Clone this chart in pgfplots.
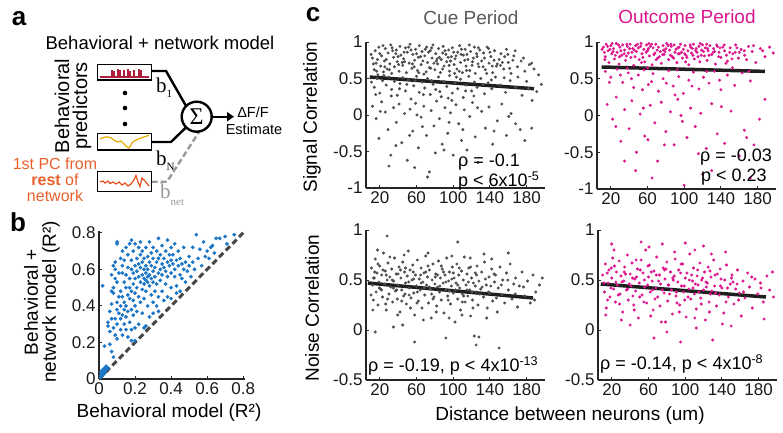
\documentclass[border=0pt]{standalone}
\usepackage{fontspec}
\setmainfont{Liberation Sans}
\newfontfamily\serif{Liberation Serif}
\usepackage{pgfplots}
\pgfplotsset{compat=1.18}
\usetikzlibrary{arrows.meta}
\definecolor{cuegray}{RGB}{78,78,78}
\definecolor{outmag}{RGB}{220,22,142}
\definecolor{bblue}{RGB}{28,118,198}
\definecolor{spikered}{RGB}{176,32,60}
\definecolor{trYellow}{RGB}{232,168,0}
\definecolor{trOrange}{RGB}{226,80,30}
\definecolor{pcorange}{RGB}{232,96,44}
\newcommand{\fs}[1]{\fontsize{#1}{#1}\selectfont}

\pgfplotsset{
  panel/.style={
    scale only axis, anchor=south west,
    axis lines*=left,
    axis line style={line width=1.5pt, draw=black!85},
    every tick/.style={black!85, line width=1pt},
    tick align=inside, major tick length=3pt,
    ticklabel style={font=\fs{17}, text=black!90},
    /pgf/number format/assume math mode=true,
    clip=false,
  },
  cpanel/.style={panel, width=179pt, xmin=5, xmax=200,
    xtick={20,60,100,140,180}, xticklabels={20,60,100,140,180}},
  sigpanel/.style={cpanel, ymin=-1, ymax=1,
    ytick={-1,-0.5,0,0.5,1}, yticklabels={-1,-0.5,0,0.5,1}},
  noisepanel/.style={cpanel, height=150pt, ymin=-0.5, ymax=1,
    ytick={-0.5,0,0.5,1}, yticklabels={-0.5,0,0.5,1}},
  dots/.style={only marks, mark=*, mark size=1.3pt},
  fit/.style={line width=3.5pt, black!88},
}

\begin{document}
\begin{tikzpicture}
\path[use as bounding box] (0,0) rectangle (783pt,432pt);

% ---- b: model comparison ----
\begin{axis}[panel, at={(99pt,53pt)}, width=146pt, height=148pt,
  xmin=0, xmax=0.81, ymin=0, ymax=0.81,
  xtick={0,0.2,0.4,0.6,0.8}, xticklabels={0,0.2,0.4,0.6,0.8},
  ytick={0,0.2,0.4,0.6,0.8}, yticklabels={0,0.2,0.4,0.6,0.8}]
\addplot[dots, mark size=1.7pt, bblue] coordinates {
(0.01,0.02)(0.02,0.03)(0.02,0.05)(0.03,0.04)(0.01,0.01)(0.03,0.06)(0.04,0.05)(0.02,0.02)(0.04,0.07)(0.03,0.03)(0.05,0.06)(0.01,0.04)
(0.02,0.51)(0.03,0.18)
(0.05,0.29)(0.05,0.31)(0.06,0.26)(0.06,0.19)(0.07,0.33)(0.06,0.37)(0.07,0.41)(0.08,0.47)(0.07,0.48)(0.08,0.50)(0.07,0.57)(0.09,0.60)(0.08,0.62)(0.09,0.64)(0.08,0.28)(0.09,0.24)(0.09,0.33)(0.1,0.38)(0.1,0.42)(0.1,0.30)(0.1,0.22)(0.1,0.75)(0.1,0.74)(0.09,0.55)(0.1,0.53)(0.07,0.15)(0.08,0.12)
(0.11,0.36)(0.11,0.45)(0.11,0.58)(0.12,0.66)(0.12,0.27)(0.12,0.33)(0.12,0.48)(0.12,0.40)(0.13,0.58)(0.13,0.62)(0.13,0.70)(0.13,0.45)(0.13,0.35)(0.13,0.24)(0.14,0.53)(0.14,0.38)(0.14,0.42)(0.14,0.65)(0.14,0.30)(0.15,0.72)(0.15,0.50)(0.15,0.57)(0.15,0.40)(0.15,0.27)(0.15,0.34)(0.16,0.61)(0.16,0.46)(0.16,0.68)(0.16,0.37)(0.16,0.23)(0.17,0.55)(0.17,0.74)(0.17,0.44)(0.17,0.50)(0.17,0.31)(0.18,0.76)(0.18,0.60)(0.18,0.65)(0.18,0.38)(0.18,0.48)(0.18,0.27)(0.19,0.58)(0.19,0.70)(0.19,0.43)(0.19,0.52)(0.19,0.35)(0.2,0.62)(0.2,0.47)(0.2,0.74)(0.2,0.40)(0.2,0.28)(0.2,0.55)(0.2,0.21)
(0.21,0.59)(0.21,0.66)(0.21,0.50)(0.21,0.37)(0.22,0.72)(0.22,0.56)(0.22,0.45)(0.22,0.63)(0.22,0.30)(0.23,0.61)(0.23,0.53)(0.23,0.68)(0.23,0.42)(0.23,0.75)(0.24,0.57)(0.24,0.49)(0.24,0.64)(0.24,0.36)(0.24,0.70)(0.25,0.55)(0.25,0.60)(0.25,0.52)(0.25,0.66)(0.25,0.44)(0.25,0.28)(0.26,0.58)(0.26,0.54)(0.26,0.62)(0.26,0.72)(0.26,0.48)(0.27,0.56)(0.27,0.53)(0.27,0.60)(0.27,0.40)(0.27,0.67)(0.28,0.57)(0.28,0.51)(0.28,0.64)(0.28,0.75)(0.28,0.34)(0.29,0.55)(0.29,0.62)(0.29,0.46)(0.29,0.69)(0.3,0.59)(0.3,0.53)(0.3,0.66)(0.3,0.42)(0.3,0.72)(0.3,0.36)
(0.31,0.61)(0.31,0.56)(0.31,0.48)(0.32,0.64)(0.32,0.70)(0.32,0.52)(0.32,0.40)(0.33,0.58)(0.33,0.66)(0.33,0.77)(0.33,0.45)(0.34,0.60)(0.34,0.54)(0.34,0.68)(0.35,0.63)(0.35,0.57)(0.35,0.73)(0.35,0.48)(0.36,0.61)(0.36,0.66)(0.36,0.43)(0.37,0.59)(0.37,0.70)(0.37,0.52)(0.38,0.64)(0.38,0.76)(0.38,0.56)(0.38,0.45)(0.39,0.62)(0.39,0.68)(0.4,0.58)(0.4,0.65)(0.4,0.50)(0.4,0.72)(0.4,0.44)
(0.41,0.63)(0.41,0.68)(0.42,0.56)(0.42,0.60)(0.42,0.74)(0.43,0.65)(0.43,0.51)(0.44,0.62)(0.44,0.70)(0.45,0.57)(0.45,0.66)(0.45,0.48)(0.46,0.63)(0.46,0.55)(0.47,0.60)(0.47,0.72)(0.48,0.64)(0.48,0.53)(0.49,0.59)(0.5,0.67)(0.5,0.62)(0.51,0.56)(0.52,0.72)(0.52,0.64)(0.53,0.60)(0.54,0.79)(0.55,0.66)
(0.56,0.71)(0.57,0.62)(0.58,0.75)(0.6,0.70)(0.61,0.66)(0.62,0.72)(0.64,0.69)(0.65,0.77)(0.67,0.77)(0.7,0.78)(0.71,0.74)(0.75,0.79)(0.63,0.73)(0.59,0.67)
(0.18,0.21)(0.26,0.29)(0.33,0.37)(0.43,0.47)
};
\addplot[line width=3pt, black!72, dash pattern=on 6pt off 3.5pt] coordinates {(0,0) (0.8,0.8)};
\end{axis}

% ---- c: cue signal ----
\begin{axis}[sigpanel, at={(366pt,244pt)}, height=146pt]
\addplot[dots, cuegray] coordinates {
(12,0.78)(14,0.62)(15,0.88)(16,0.71)(18,0.55)(19,0.93)(21,0.67)(22,0.81)(24,0.59)(25,0.74)(26,0.91)(28,0.63)(29,0.85)(31,0.70)(32,0.96)(33,0.57)(35,0.79)(36,0.66)(38,0.89)(39,0.73)(41,0.60)(42,0.94)(43,0.82)(45,0.68)(46,0.77)(48,0.92)(49,0.58)(50,0.86)(52,0.71)(53,0.97)(55,0.64)(56,0.83)(58,0.75)(59,0.90)(61,0.61)(62,0.79)(63,0.95)(65,0.69)(66,0.87)(68,0.56)(69,0.81)(71,0.93)(72,0.72)(74,0.65)(75,0.88)(77,0.78)(78,0.96)(80,0.62)(81,0.84)(83,0.70)(84,0.91)(86,0.58)(87,0.76)(89,0.94)(90,0.67)(92,0.83)(93,0.73)(95,0.89)(96,0.60)(98,0.80)(99,0.92)(101,0.69)(102,0.77)(104,0.63)(105,0.86)(107,0.95)(108,0.72)(110,0.58)(111,0.82)(113,0.90)(114,0.67)(116,0.76)(118,0.61)(119,0.87)(121,0.73)(123,0.93)(124,0.57)(126,0.80)(128,0.66)(129,0.89)
(131,0.74)(133,0.85)(135,0.62)(137,0.93)(139,0.71)(141,0.80)(143,0.58)(145,0.88)(147,0.67)(150,0.76)(152,0.84)(155,0.63)(158,0.90)(160,0.72)(163,0.57)(166,0.81)(170,0.66)(174,0.74)(178,0.60)(183,0.69)(188,0.63)(193,0.55)(196,0.42)(191,0.32)(186,0.20)(180,0.46)
(13,0.70)(20,0.84)(27,0.76)(34,0.88)(40,0.80)(47,0.73)(54,0.89)(60,0.84)(67,0.74)(73,0.86)(79,0.71)(85,0.79)(91,0.88)(97,0.74)(103,0.81)(109,0.90)(115,0.83)(122,0.78)(127,0.70)(134,0.78)(140,0.86)(148,0.70)(156,0.80)(165,0.75)
(10.5,0.83)(16.5,0.60)(23.5,0.95)(30.5,0.62)(37.5,0.84)(44.5,0.72)(51.5,0.93)(57.5,0.66)(64.5,0.80)(70.5,0.59)(76.5,0.92)(82.5,0.77)(88.5,0.63)(94.5,0.79)(100.5,0.86)(106.5,0.60)(112.5,0.75)(117.5,0.96)(125.5,0.84)(132.5,0.66)(138.5,0.91)(144.5,0.75)(151.5,0.68)(159.5,0.83)(167.5,0.88)(176.5,0.78)(185.5,0.71)
(17.5,0.76)(25.5,0.66)(33.5,0.92)(40.5,0.69)(46.5,0.86)(55.5,0.70)(62.5,0.58)(69.5,0.90)(75.5,0.64)(81.5,0.74)(88.5,0.85)(95.5,0.68)(101.5,0.57)(108.5,0.83)(114.5,0.61)(120.5,0.68)(127.5,0.92)(136.5,0.57)(142.5,0.67)(153.5,0.72)(161.5,0.64)
(11,0.45)(14,0.38)(17,0.50)(20,0.30)(23,0.47)(27,0.41)(30,0.52)(33,0.35)(36,0.46)(39,0.27)(42,0.43)(45,0.51)(48,0.33)(51,0.48)(54,0.22)(57,0.40)(60,0.53)(63,0.31)(66,0.45)(69,0.37)(72,0.50)(75,0.28)(78,0.42)(81,0.35)(84,0.52)(87,0.25)(90,0.46)(93,0.39)(96,0.54)(99,0.30)(102,0.44)(105,0.36)(108,0.49)(111,0.24)(114,0.41)(117,0.53)(120,0.33)(123,0.45)(126,0.38)(130,0.50)(134,0.29)(138,0.44)(142,0.36)(146,0.52)(151,0.41)(157,0.31)(162,0.47)(168,0.38)(175,0.27)(182,0.36)
(15.5,0.28)(24.5,0.54)(32.5,0.26)(41.5,0.36)(49.5,0.42)(58.5,0.47)(67.5,0.28)(76.5,0.47)(85.5,0.32)(94.5,0.23)(103.5,0.52)(113.5,0.33)(122.5,0.26)(132.5,0.42)(141.5,0.48)(155.5,0.51)(170.5,0.52)
(12,0.12)(16,-0.05)(19,-0.32)(22,0.18)(26,0.04)(29,-0.20)(32,-0.55)(35,0.10)(38,-0.10)(41,0.15)(44,-0.38)(47,0.02)(50,-0.62)(53,0.08)(56,-0.22)(59,0.16)(62,-0.45)(65,-0.03)(68,0.12)(71,-0.28)(74,-0.78)(76,0.06)(79,-0.15)(82,0.19)(85,-0.05)(88,-0.40)(91,0.10)(94,-0.25)(97,0.03)(100,-0.55)(103,0.14)(106,-0.12)(109,-0.35)(112,0.07)(115,-0.48)(118,-0.02)(121,0.17)(124,-0.30)(127,-0.65)(131,0.05)(135,-0.18)(139,0.11)(143,-0.40)(148,-0.08)(153,0.15)(158,-0.28)(163,0.02)(168,-0.12)(173,-0.20)(178,-0.35)(72,-0.85)(58,-0.72)(30,-0.70)(90,-0.48)
(20.5,0.05)(37.5,-0.42)(52.5,-0.28)(66.5,-0.16)(80.5,-0.52)(95.5,-0.10)(110.5,-0.20)(126.5,0.10)(144.5,-0.22)(160.5,-0.02)(185.5,-0.18)(98.5,0.20)(60.5,0.00)
};
\addplot[fit] coordinates {(9,0.52) (188,0.36)};
\end{axis}

% ---- c: outcome signal ----
\begin{axis}[sigpanel, at={(597pt,243pt)}, height=147pt]
\addplot[dots, outmag] coordinates {
(12,0.93)(14,0.80)(15,0.97)(17,0.88)(18,0.72)(20,0.95)(21,0.84)(23,0.91)(24,0.77)(26,0.98)(27,0.86)(29,0.70)(30,0.93)(32,0.82)(33,0.96)(35,0.89)(36,0.75)(38,0.94)(39,0.85)(41,0.97)(42,0.79)(44,0.91)(45,0.68)(47,0.95)(48,0.87)(50,0.92)(51,0.76)(53,0.98)(54,0.84)(56,0.90)(57,0.73)(59,0.96)(60,0.88)(62,0.81)(63,0.94)(65,0.69)(66,0.92)(68,0.85)(69,0.97)(71,0.78)(72,0.93)(74,0.87)(75,0.71)(77,0.95)(78,0.83)(80,0.91)(81,0.98)(83,0.76)(84,0.89)(86,0.94)(87,0.80)(89,0.96)(90,0.86)(92,0.72)(93,0.92)(95,0.84)(96,0.97)(98,0.78)(99,0.90)(101,0.95)(102,0.82)(104,0.88)(105,0.69)(107,0.93)(108,0.85)(110,0.97)(111,0.77)(113,0.91)(114,0.86)(116,0.94)(117,0.73)(119,0.89)(120,0.96)(122,0.81)(123,0.92)(125,0.75)(126,0.88)(128,0.95)(130,0.83)(132,0.91)(134,0.70)(136,0.94)(138,0.86)(140,0.79)(142,0.93)(144,0.88)(147,0.74)(150,0.92)(153,0.84)(156,0.96)(159,0.78)(162,0.90)(166,0.82)(170,0.94)(174,0.87)(178,0.72)(183,0.91)(188,0.80)(193,0.93)(197,0.85)
(13,0.86)(19,0.90)(25,0.82)(31,0.88)(37,0.81)(43,0.86)(49,0.97)(55,0.79)(61,0.91)(67,0.83)(73,0.80)(79,0.87)(85,0.82)(91,0.90)(97,0.86)(103,0.79)(109,0.91)(115,0.80)(121,0.87)(127,0.82)(133,0.87)(139,0.92)(146,0.82)(152,0.77)(160,0.86)(168,0.76)
(10.5,0.90)(16.5,0.94)(22.5,0.87)(28.5,0.96)(34.5,0.84)(40.5,0.91)(46.5,0.80)(52.5,0.94)(58.5,0.86)(64.5,0.97)(70.5,0.89)(76.5,0.83)(82.5,0.95)(88.5,0.78)(94.5,0.93)(100.5,0.84)(106.5,0.96)(112.5,0.88)(118.5,0.82)(124.5,0.97)(131.5,0.86)(137.5,0.80)(143.5,0.96)(149.5,0.86)(157.5,0.92)(165.5,0.88)(175.5,0.95)(185.5,0.88)
(13.5,0.76)(21.5,0.98)(29.5,0.80)(37.5,0.97)(45.5,0.89)(53.5,0.72)(61.5,0.98)(69.5,0.76)(77.5,0.89)(85.5,0.97)(93.5,0.84)(101.5,0.73)(109.5,0.82)(117.5,0.98)(125.5,0.91)(135.5,0.96)(145.5,0.71)(155.5,0.86)
(14,0.60)(20,0.52)(27,0.63)(33,0.45)(39,0.58)(45,0.38)(50,0.55)(56,0.62)(61,0.42)(66,0.57)(72,0.33)(77,0.50)(83,0.61)(88,0.40)(94,0.53)(99,0.30)(105,0.48)(110,0.59)(116,0.36)(121,0.52)(127,0.44)(133,0.60)(140,0.35)(147,0.55)(155,0.41)(163,0.58)(172,0.47)(188,0.22)(60,0.65)(38,0.64)
(18.5,0.45)(30.5,0.55)(42.5,0.50)(54.5,0.35)(64.5,0.46)(80.5,0.44)(92.5,0.62)(108.5,0.40)(124.5,0.60)(138.5,0.48)(152.5,0.65)(170.5,0.60)
(16,0.15)(22,-0.05)(26,0.25)(31,-0.35)(35,0.08)(40,-0.18)(43,0.20)(48,-0.50)(52,0.02)(57,-0.28)(63,0.14)(68,-0.10)(71,-0.62)(75,0.18)(80,-0.22)(85,0.05)(89,-0.40)(93,0.22)(98,-0.08)(103,-0.30)(107,0.10)(112,-0.15)(118,0.03)(124,-0.45)(130,0.16)(136,-0.25)(144,-0.38)(151,0.06)(160,-0.55)(168,-0.30)(176,-0.40)(182,-0.05)(47,-0.75)(100,-0.95)(120,-0.80)(65,-0.85)(172,-0.85)(130,-0.75)(35,-0.62)(90,0.28)
(25.5,-0.15)(55.5,0.10)(78.5,-0.40)(96.5,0.00)(115.5,-0.52)(140.5,0.12)(165.5,-0.20)(60.5,-0.33)
};
\addplot[fit] coordinates {(10,0.66) (188,0.60)};
\end{axis}

% ---- c: cue noise ----
\begin{axis}[noisepanel, at={(366pt,52pt)}]
\addplot[dots, cuegray] coordinates {
(11,0.62)(12,0.45)(13,0.30)(14,0.52)(15,0.71)(16,0.38)(17,0.57)(18,0.25)(19,0.48)(20,0.64)(21,0.41)(22,0.55)(23,0.33)(24,0.77)(25,0.46)(26,0.59)(27,0.20)(28,0.50)(29,0.67)(30,0.36)(31,0.53)(32,0.43)(33,0.61)(34,0.28)(35,0.49)(36,0.72)(37,0.39)(38,0.56)(39,0.31)(40,0.45)(41,0.63)(42,0.18)(43,0.52)(44,0.40)(45,0.68)(46,0.34)(47,0.58)(48,0.47)(49,0.26)(50,0.54)(51,0.79)(52,0.42)(53,0.60)(54,0.32)(55,0.50)(56,0.65)(57,0.37)(58,0.15)(59,0.55)(60,0.44)(61,0.70)(62,0.29)(63,0.51)(64,0.40)(65,0.62)(66,0.22)(67,0.48)(68,0.57)(69,0.35)(70,0.74)(71,0.45)(72,0.53)(73,0.27)(74,0.60)(75,0.41)(76,0.12)(77,0.50)(78,0.66)(79,0.33)(80,0.46)(81,0.56)(82,0.24)(83,0.43)(84,0.69)(85,0.38)(86,0.52)(87,0.30)(88,0.61)(89,0.47)(90,0.17)(91,0.55)(92,0.40)(93,0.72)(94,0.34)(95,0.49)(96,0.58)(97,0.26)(98,0.44)(99,0.63)(100,0.37)(101,0.52)(102,0.08)(103,0.47)(104,0.66)(105,0.31)(106,0.55)(107,0.42)(108,0.20)(109,0.59)(110,0.36)(111,0.50)(112,0.73)(113,0.28)(114,0.45)(115,0.56)(116,0.34)(117,0.62)(118,0.40)(119,0.14)(120,0.52)(121,0.30)(122,0.47)(123,-0.06)(124,0.57)(125,0.38)(126,0.64)(127,0.25)(128,0.49)(130,0.41)(131,0.58)(133,0.33)(134,0.68)(136,0.45)(137,0.22)(139,0.53)(140,0.37)(142,0.61)(143,0.29)(145,0.48)(146,0.55)(148,0.18)(149,0.42)(151,0.63)(153,0.35)(154,0.50)(156,0.27)(158,0.57)(160,0.40)(162,0.66)(164,0.31)(166,0.46)(168,0.52)(170,0.23)(172,0.44)(175,0.58)(178,0.34)(181,0.49)(184,0.27)(187,0.55)(190,0.38)(194,0.45)(197,0.52)
(13,0.52)(18,0.66)(22,0.40)(27,0.55)(31,0.73)(35,0.42)(40,0.56)(44,0.29)(48,0.62)(52,0.35)(57,0.51)(61,0.38)(65,0.47)(70,0.58)(74,0.43)(78,0.31)(83,0.55)(87,0.64)(92,0.48)(96,0.39)(100,0.57)(105,0.45)(110,0.28)(115,0.40)(119,0.63)(124,0.44)(129,0.36)(135,0.51)(141,0.44)(147,0.32)(28,0.94)(105,0.88)(58,-0.12)(125,-0.15)(35,0.03)(150,-0.18)(128,-0.07)(92,-0.08)(15,-0.02)(45,0.05)(142,0.71)(160,0.77)
(10.5,0.35)(14.5,0.58)(19.5,0.42)(23.5,0.60)(28.5,0.31)(33.5,0.50)(38.5,0.40)(42.5,0.60)(47.5,0.36)(51.5,0.48)(56.5,0.58)(60.5,0.27)(64.5,0.55)(68.5,0.42)(72.5,0.64)(76.5,0.36)(80.5,0.53)(85.5,0.44)(89.5,0.58)(94.5,0.30)(98.5,0.51)(102.5,0.40)(106.5,0.62)(111.5,0.34)(116.5,0.48)(120.5,0.38)(125.5,0.55)(131.5,0.43)(138.5,0.38)(144.5,0.56)(152.5,0.45)(159.5,0.50)(167.5,0.36)(176.5,0.43)(188.5,0.30)
(12.5,0.20)(26.5,0.26)(39.5,0.15)(53.5,0.22)(67.5,0.10)(81.5,0.18)(95.5,0.12)(109.5,0.15)(121.5,0.22)(136.5,0.12)(17.5,0.80)(46.5,0.75)(72.5,0.77)(98.5,0.74)(118.5,0.72)(133.5,0.76)
};
\addplot[fit] coordinates {(7,0.47) (187,0.32)};
\end{axis}

% ---- c: outcome noise ----
\begin{axis}[noisepanel, at={(598pt,52pt)}]
\addplot[dots, outmag] coordinates {
(10,0.55)(12,0.38)(13,0.66)(14,0.22)(16,0.47)(17,0.60)(18,0.33)(20,0.52)(21,0.72)(22,0.41)(24,0.28)(25,0.58)(26,0.45)(28,0.69)(29,0.36)(30,0.54)(32,0.18)(33,0.49)(34,0.63)(36,0.40)(37,0.75)(38,0.30)(40,0.56)(41,0.44)(42,0.67)(44,0.25)(45,0.51)(46,0.39)(48,0.61)(49,0.12)(50,0.47)(52,0.70)(53,0.35)(54,0.57)(56,0.43)(57,0.80)(58,0.27)(60,0.53)(61,0.65)(62,0.38)(64,0.49)(65,0.20)(66,0.59)(68,0.42)(69,0.73)(70,0.33)(72,0.55)(73,0.46)(74,0.08)(76,0.62)(77,0.37)(78,0.51)(80,0.68)(81,0.29)(82,0.45)(84,0.58)(85,0.40)(86,0.16)(88,0.54)(89,0.71)(90,0.34)(92,0.48)(93,0.60)(94,0.25)(96,0.44)(97,0.66)(98,0.38)(100,0.52)(101,0.13)(102,0.57)(104,0.41)(105,0.76)(106,0.31)(108,0.49)(109,0.62)(110,0.36)(112,0.21)(113,0.54)(114,0.45)(116,0.67)(117,0.32)(118,0.50)(120,0.40)(121,0.58)(122,0.10)(124,0.47)(125,0.63)(126,0.28)(128,0.53)(129,0.39)(131,0.70)(132,0.44)(134,0.24)(135,0.56)(137,0.35)(138,0.61)(140,0.42)(142,0.17)(143,0.50)(145,0.65)(147,0.33)(149,0.46)(151,0.55)(153,0.26)(155,0.41)(157,0.60)(159,0.37)(161,0.14)(163,0.49)(165,0.32)(168,0.57)(170,0.43)(173,0.22)(176,0.51)(179,0.36)(182,0.47)(185,0.28)(189,0.54)(192,0.40)(196,0.33)(186,0.11)(195,0.58)
(15,0.57)(19,0.42)(23,0.64)(27,0.35)(31,0.48)(35,0.56)(39,0.46)(43,0.34)(47,0.53)(51,0.60)(55,0.28)(59,0.45)(63,0.58)(67,0.31)(71,0.49)(75,0.40)(79,0.61)(83,0.36)(87,0.50)(91,0.27)(95,0.57)(99,0.44)(103,0.33)(107,0.55)(111,0.46)(115,0.38)(119,0.52)(123,0.43)(127,0.59)(133,0.37)(139,0.51)(146,0.42)(152,0.48)(158,0.30)(66,-0.08)(95,-0.12)(130,-0.10)(112,0.02)(40,0.05)(52,0.88)(75,0.86)(100,0.87)(120,0.84)(144,0.78)(20,0.86)(150,0.04)(80,-0.02)
(11.5,0.47)(15.5,0.30)(19.5,0.62)(24.5,0.48)(28.5,0.26)(33.5,0.58)(37.5,0.41)(42.5,0.52)(46.5,0.70)(50.5,0.33)(55.5,0.50)(59.5,0.64)(64.5,0.40)(68.5,0.55)(72.5,0.24)(77.5,0.60)(81.5,0.45)(86.5,0.52)(90.5,0.38)(95.5,0.66)(99.5,0.30)(104.5,0.50)(108.5,0.42)(113.5,0.60)(117.5,0.26)(122.5,0.48)(127.5,0.36)(132.5,0.55)(138.5,0.44)(144.5,0.28)(150.5,0.52)(156.5,0.46)(163.5,0.38)(172.5,0.53)(182.5,0.42)
(13.5,0.15)(30.5,0.10)(44.5,0.20)(62.5,0.14)(78.5,0.08)(93.5,0.18)(110.5,0.12)(126.5,0.18)(140.5,0.06)(22.5,0.80)(60.5,0.83)(88.5,0.78)(110.5,0.80)(128.5,0.76)
};
\addplot[fit] coordinates {(8,0.46) (188,0.33)};
\end{axis}

% ---- annotations and panel a (pixel coordinates from the top) ----
\begin{scope}[x=1pt, y=-1pt, yshift=432pt]
  \node[font=\bfseries\fs{26}] at (19,19) {a};
  \node[font=\bfseries\fs{26}] at (18,222) {b};
  \node[font=\bfseries\fs{26}] at (313,15) {c};

  \node[font=\fs{19}, text=black!65] at (471,18) {Cue Period};
  \node[font=\fs{19}, text=outmag] at (687,17) {Outcome Period};
  \node[font=\fs{19}, rotate=90] at (312,117) {Signal Correlation};
  \node[font=\fs{19}, rotate=90] at (312,308) {Noise Correlation};
  \node[font=\fs{19}] at (570,416) {Distance between neurons (um)};

  \node[font=\fs{18}, anchor=west, inner sep=0pt] at (458,162) {ρ = -0.1};
  \node[font=\fs{18}, anchor=west, inner sep=0pt] at (458,181) {p < 6x10\textsuperscript{-5}};
  \node[font=\fs{18}, anchor=west, inner sep=0pt] at (700,157) {ρ = -0.03};
  \node[font=\fs{18}, anchor=west, inner sep=0pt] at (701,177) {p < 0.23};
  \node[font=\fs{18}, anchor=west, inner sep=0pt] at (368,366) {ρ = -0.19, p < 4x10\textsuperscript{-13}};
  \node[font=\fs{18}, anchor=west, inner sep=0pt] at (600,364) {ρ = -0.14, p < 4x10\textsuperscript{-8}};

  \node[font=\fs{19}, rotate=90, align=center] at (42,302) {Behavioral +\\[-1pt]network model (R²)};
  \node[font=\fs{19}] at (169,413) {Behavioral model (R²)};

  % diagram
  \node[font=\fs{18.5}] at (160,43) {Behavioral + network model};
  \node[font=\fs{20}, rotate=90, align=center] at (73,106) {Behavioral\\[-2pt]predictors};
  \node[font=\fs{16}, text=pcorange, align=center, inner sep=0pt] at (55,180)
    {\fontsize{16}{13}\selectfont 1st PC from\\ \textbf{rest} of\\ network};

  \draw[black, line width=2.4pt] (151.7,71) -- (166,71) -- (186.1,106.1);
  \draw[black, line width=2.4pt] (151.7,142) -- (171,142) -- (186.1,127.3);
  \draw[black!40, line width=2.4pt, dash pattern=on 6pt off 3pt] (151.7,181.7) -- (167,181.7) -- (199,132);
  \draw[black, line width=2.4pt, fill=white] (196.7,116.7) circle (15);
  \node[font=\serif\fs{24}] at (196.7,116.7) {Σ};
  \draw[black, line width=2.4pt, -{Triangle[length=7pt,width=9pt]}] (211.7,116.7) -- (234,116.7);
  \node[font=\fs{14.5}, inner sep=0pt] at (253,112) {ΔF/F};
  \node[font=\fs{14.5}, inner sep=0pt] at (254,129) {Estimate};

  \node[font=\serif\fs{21}, anchor=west, inner sep=0pt] at (156,88) {b\raisebox{-5pt}{\fs{11}1}};
  \node[font=\serif\fs{21}, anchor=west, inner sep=0pt] at (156,161) {b\raisebox{-5pt}{\fs{11}N}};
  \node[font=\serif\fs{21}, anchor=west, inner sep=0pt, text=black!40] at (160,195) {b\raisebox{-7pt}{\fs{11}net}};

  % predictor boxes
  \draw[line width=1.4pt, fill=white] (97.7,64.3) rectangle (151.7,80);
  \draw[spikered, line width=1.1pt] (100,77) -- (149,77);
  \foreach \sx/\sh in {112/70,114/71,118/69,120/70.5,124/70,128/69,130/71,134/70,139/69,141/70}
    \draw[spikered, line width=1.3pt] (\sx,77) -- (\sx,\sh);
  \fill (125,93) circle (2.3);
  \fill (125,108) circle (2.3);
  \fill (125,124) circle (2.3);
  \draw[line width=1.4pt, fill=white] (97.7,133.3) rectangle (151.7,150);
  \draw[trYellow, line width=1.2pt] plot[smooth] coordinates {(100,139) (105,137) (110,137.5) (114,140) (118,142) (121,141) (125,145) (129,148) (132,143) (136,140) (141,138) (145,136.5) (149,135.5)};
  \draw[line width=1.4pt, fill=white] (97.7,171.7) rectangle (151.7,191.7);
  \draw[trOrange, line width=1.2pt] plot coordinates {(100,182) (103,181) (105,183) (108,181) (110,183.5) (113,182) (116,184) (119,182) (122,185) (125,183) (128,186) (131,184) (134,180) (136,175.5) (138,182) (140,186.5) (142,178) (145,181) (149,186)};
\end{scope}
\end{tikzpicture}
\end{document}
